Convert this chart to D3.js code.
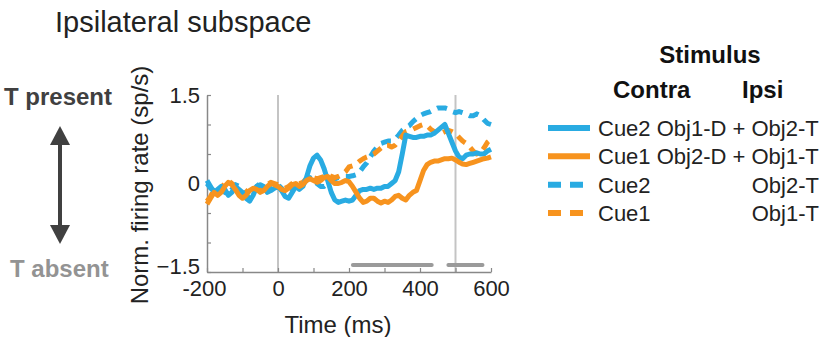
<!DOCTYPE html>
<html>
<head>
<meta charset="utf-8">
<script src="https://cdn.jsdelivr.net/npm/d3@7"></script>
<style>
  body { margin: 0; background: #fff; }
  svg text { font-family: "Liberation Sans", Arial, sans-serif; }
</style>
</head>
<body>
<div id="chart"></div>
<script>
// time axis (ms)
const times = [-200,-190,-180,-170,-160,-150,-140,-130,-120,-110,-100,-90,-80,-70,-60,-50,-40,-30,-20,-10,
  0,10,20,30,40,50,60,70,80,90,100,110,120,130,140,150,160,170,180,190,
  200,210,220,230,240,250,260,270,280,290,300,310,320,330,340,350,360,370,380,390,
  400,410,420,430,440,450,460,470,480,490,500,510,520,530,540,550,560,570,580,590,600];

// Cue2 Obj1-D + Obj2-T (solid blue)
const cue2Both = [0.05,-0.05,-0.15,-0.1,-0.05,-0.1,-0.2,-0.15,-0.05,-0.1,-0.15,-0.25,-0.3,-0.2,-0.05,-0.02,-0.05,-0.15,-0.12,-0.08,
  -0.05,-0.12,-0.22,-0.25,-0.15,-0.05,-0.1,-0.05,0.1,0.3,0.43,0.48,0.4,0.25,0.05,-0.15,-0.28,-0.32,-0.3,-0.28,
  -0.3,-0.28,-0.2,-0.12,-0.1,-0.1,-0.08,-0.1,-0.08,-0.08,-0.05,-0.05,0.0,0.05,0.2,0.5,0.82,0.8,0.78,0.78,
  0.8,0.8,0.82,0.82,0.85,0.9,0.95,1.0,0.85,0.7,0.55,0.45,0.42,0.48,0.5,0.5,0.52,0.5,0.5,0.55,0.58];

// Cue1 Obj2-D + Obj1-T (solid orange)
const cue1Both = [-0.35,-0.25,-0.15,-0.2,-0.15,-0.05,0.02,-0.02,-0.1,-0.2,-0.25,-0.2,-0.12,-0.08,-0.1,-0.15,-0.12,-0.05,0.0,-0.02,
  -0.05,-0.1,-0.12,-0.08,-0.02,0.0,-0.05,-0.02,0.05,0.08,0.05,0.02,0.05,0.1,0.12,0.05,0.0,0.0,0.02,0.05,
  0.03,-0.05,-0.15,-0.25,-0.32,-0.3,-0.25,-0.25,-0.3,-0.33,-0.3,-0.32,-0.28,-0.22,-0.2,-0.25,-0.28,-0.2,-0.15,-0.12,
  0.05,0.22,0.32,0.36,0.38,0.38,0.4,0.42,0.42,0.43,0.4,0.36,0.33,0.32,0.34,0.36,0.38,0.4,0.42,0.43,0.45];

// Cue2 / Obj2-T (dashed blue)
const cue2Only = [0.0,-0.08,-0.12,-0.05,-0.08,-0.15,-0.18,-0.1,-0.02,-0.05,-0.12,-0.2,-0.25,-0.15,-0.05,0.0,-0.02,-0.1,-0.1,-0.05,
  -0.02,-0.08,-0.15,-0.18,-0.1,-0.02,-0.05,0.0,0.05,0.1,0.05,0.0,-0.05,-0.05,0.0,0.05,0.08,0.1,0.1,0.12,
  0.12,0.13,0.15,0.2,0.28,0.35,0.45,0.55,0.62,0.68,0.7,0.72,0.72,0.75,0.82,0.9,0.95,0.98,1.05,1.1,
  1.15,1.18,1.2,1.22,1.25,1.28,1.28,1.28,1.26,1.22,1.2,1.22,1.2,1.18,1.15,1.15,1.18,1.15,1.08,1.02,1.0];

// Cue1 / Obj1-T (dashed orange)
const cue1Only = [-0.3,-0.22,-0.1,-0.12,-0.08,0.0,0.05,0.0,-0.08,-0.15,-0.2,-0.15,-0.08,-0.05,-0.08,-0.1,-0.08,-0.02,0.02,0.0,
  -0.02,-0.05,-0.08,-0.05,0.0,0.02,0.0,0.02,0.08,0.1,0.1,0.08,0.1,0.12,0.15,0.12,0.1,0.12,0.15,0.2,
  0.28,0.3,0.33,0.38,0.42,0.45,0.47,0.5,0.55,0.6,0.65,0.65,0.62,0.65,0.72,0.8,0.88,0.9,0.92,0.95,
  0.98,1.0,0.98,0.92,0.88,0.85,0.85,0.88,0.9,0.88,0.85,0.78,0.72,0.68,0.62,0.55,0.5,0.52,0.6,0.7,0.75];

// significance bars (ms)
const sigBars = [[211, 433], [480, 576]];
const eventLines = [0, 500];

const xTicks = [-200,-100,0,100,200,300,400,500,600];
const xLabels = [-200,0,200,400,600];
const yTicks = [-1.5,-1,-0.5,0,0.5,1,1.5];
const yLabels = [-1.5,0,1.5];

const blue = "#29abe2", orange = "#f7931e";

// drawing order: dashed behind solid
const series = [
  {values: cue2Only, color: blue, dash: "10,7"},
  {values: cue1Only, color: orange, dash: "10,7"},
  {values: cue2Both, color: blue, dash: null},
  {values: cue1Both, color: orange, dash: null}
];
const legendRows = [
  {left: "Cue2 Obj1-D + Obj2-T", right: "", color: blue, dash: null},
  {left: "Cue1 Obj2-D + Obj1-T", right: "", color: orange, dash: null},
  {left: "Cue2", right: "Obj2-T", color: blue, dash: "13,9"},
  {left: "Cue1", right: "Obj1-T", color: orange, dash: "13,9"}
];

const W = 826, H = 337;
const plot = {left: 207, right: 491, top: 95, bottom: 272};

const svg = d3.select("#chart").append("svg")
  .attr("width", W).attr("height", H);

const x = d3.scaleLinear().domain([-200, 600]).range([plot.left, plot.right]);
const y = d3.scaleLinear().domain([-1.5, 1.5]).range([plot.bottom, plot.top]);

// title
svg.append("text").attr("x", 55).attr("y", 32)
  .style("font-size", "29px").attr("fill", "#222")
  .text("Ipsilateral subspace");

// event lines
svg.selectAll(".evt").data(eventLines).enter().append("line")
  .attr("x1", d => x(d)).attr("x2", d => x(d))
  .attr("y1", plot.top).attr("y2", plot.bottom)
  .attr("stroke", "#c4c4c4").attr("stroke-width", 2);

// axes
const xAxis = svg.append("g")
  .attr("transform", "translate(0," + plot.bottom + ")")
  .call(d3.axisBottom(x).tickValues(xTicks).tickSizeInner(-4).tickSizeOuter(0).tickPadding(8)
    .tickFormat(d => xLabels.includes(d) ? d : ""));
const yAxis = svg.append("g")
  .attr("transform", "translate(" + plot.left + ",0)")
  .call(d3.axisLeft(y).tickValues(yTicks).tickSizeInner(-4).tickSizeOuter(0).tickPadding(7)
    .tickFormat(d => yLabels.includes(d) ? d3.format("")(d) : ""));
[xAxis, yAxis].forEach(g => {
  g.select(".domain").attr("stroke", "#888").attr("stroke-width", 1.5);
  g.selectAll(".tick line").attr("stroke", "#888").attr("stroke-width", 1.2);
  g.selectAll("text").style("font-size", "22px").attr("fill", "#222")
    .style("font-family", "'Liberation Sans', Arial, sans-serif");
});
// lift the bottom y label a little, as in the reference
yAxis.selectAll(".tick text").filter(d => d === -1.5).attr("dy", "0.05em");
xAxis.selectAll(".tick text").filter(d => d === -200).attr("dx", "-3");

// significance bars
svg.selectAll(".sig").data(sigBars).enter().append("line")
  .attr("x1", d => x(d[0])).attr("x2", d => x(d[1]))
  .attr("y1", 265).attr("y2", 265)
  .attr("stroke", "#9a9a9a").attr("stroke-width", 4).attr("stroke-linecap", "round");

// curves
const line = d3.line().x((d, i) => x(times[i])).y(d => y(d));
svg.selectAll(".curve").data(series).enter().append("path")
  .attr("d", d => line(d.values))
  .attr("fill", "none")
  .attr("stroke", d => d.color)
  .attr("stroke-width", 5)
  .attr("stroke-linejoin", "round")
  .attr("stroke-dasharray", d => d.dash);

// axis labels
svg.append("text").attr("x", 338).attr("y", 333)
  .attr("text-anchor", "middle").style("font-size", "24px").attr("fill", "#222")
  .text("Time (ms)");
svg.append("text").attr("transform", "translate(148,185) rotate(-90)")
  .attr("text-anchor", "middle").style("font-size", "24px").attr("fill", "#222")
  .text("Norm. firing rate (sp/s)");

// T present / T absent with arrow
svg.append("text").attr("x", 4).attr("y", 105)
  .style("font-size", "24px").style("font-weight", "bold").attr("fill", "#404040")
  .text("T present");
svg.append("text").attr("x", 10).attr("y", 277)
  .style("font-size", "24px").style("font-weight", "bold").attr("fill", "#939393")
  .text("T absent");
svg.append("line").attr("x1", 60).attr("x2", 60).attr("y1", 140).attr("y2", 230)
  .attr("stroke", "#404040").attr("stroke-width", 4);
svg.append("path").attr("d", "M60,126 L70,145 L50,145 Z").attr("fill", "#404040");
svg.append("path").attr("d", "M60,244 L70,225 L50,225 Z").attr("fill", "#404040");

// legend
const leg = svg.append("g");
leg.append("text").attr("x", 710).attr("y", 63).attr("text-anchor", "middle")
  .style("font-size", "24px").style("font-weight", "bold").attr("fill", "#111").text("Stimulus");
leg.append("text").attr("x", 613).attr("y", 98)
  .style("font-size", "24px").style("font-weight", "bold").attr("fill", "#111").text("Contra");
leg.append("text").attr("x", 742).attr("y", 98)
  .style("font-size", "24px").style("font-weight", "bold").attr("fill", "#111").text("Ipsi");

const rowY = d3.scalePoint().domain(d3.range(legendRows.length)).range([128, 213]);
const rows = leg.selectAll(".row").data(legendRows).enter().append("g")
  .attr("transform", (d, i) => "translate(0," + rowY(i) + ")");
rows.append("line").attr("x1", 548).attr("x2", 590).attr("y1", 0).attr("y2", 0)
  .attr("stroke", d => d.color).attr("stroke-width", 6)
  .attr("stroke-dasharray", d => d.dash);
rows.append("text").attr("x", 598).attr("y", 8)
  .style("font-size", "22px").attr("fill", "#222").text(d => d.left);
rows.append("text").attr("x", 819).attr("y", 8).attr("text-anchor", "end")
  .style("font-size", "22px").attr("fill", "#222").text(d => d.right);
</script>
</body>
</html>
